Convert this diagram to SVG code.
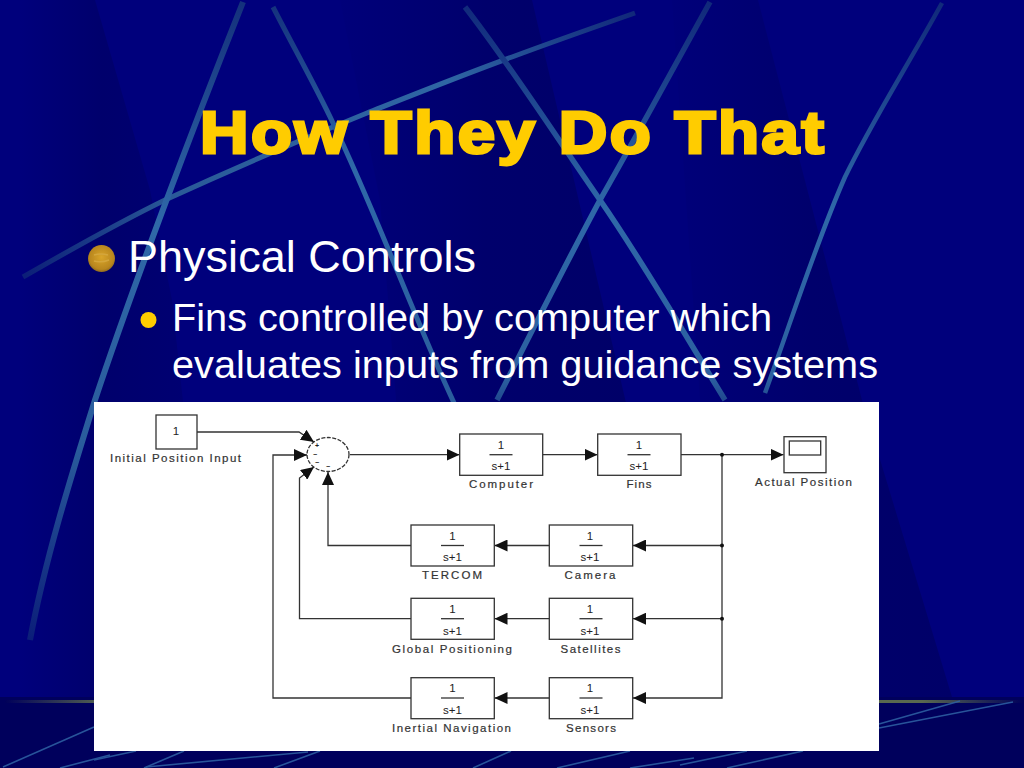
<svg xmlns="http://www.w3.org/2000/svg" width="1024" height="768" viewBox="0 0 1024 768">
<defs>
<style>
.b{fill:#fff;stroke:#333;stroke-width:1.3}
.w{fill:none;stroke:#333;stroke-width:1.3}
.t{font-family:"Liberation Sans",Arial,sans-serif;font-size:11.5px;fill:#333;stroke:#333;stroke-width:.2;text-anchor:middle}
.n{font-family:"Liberation Sans",Arial,sans-serif;font-size:11.5px;fill:#222;text-anchor:middle}
.s{font-family:"Liberation Sans",Arial,sans-serif;font-size:7px;font-weight:700;fill:#222;text-anchor:middle}
.beam{fill:none;stroke-linecap:butt}
.low{fill:none;stroke:#2f63a5;stroke-width:1.6;opacity:.85}
.h{font-family:"Liberation Sans",Arial,sans-serif;fill:#fff}
</style>
<marker id="ah" markerUnits="userSpaceOnUse" markerWidth="14" markerHeight="12" refX="13" refY="6" orient="auto"><path d="M0 0L13 6L0 12Z" fill="#111"/></marker>
<linearGradient id="lb" x1="0" x2="1" y1="0" y2="0"><stop offset="0" stop-color="#00007c"/><stop offset=".5" stop-color="#00006c"/><stop offset="1" stop-color="#000072"/></linearGradient>
<linearGradient id="pm" x1="0" x2="1" y1="0" y2="0"><stop offset="0" stop-color="#00007a"/><stop offset=".5" stop-color="#00006c"/><stop offset="1" stop-color="#000068"/></linearGradient>
<linearGradient id="a" gradientUnits="userSpaceOnUse" x1="25" y1="275" x2="635" y2="15"><stop offset="0" stop-color="#0c1f78"/><stop offset=".25" stop-color="#2a5a98"/><stop offset=".7" stop-color="#2f66a4"/><stop offset="1" stop-color="#11287a"/></linearGradient>
<linearGradient id="v1" gradientUnits="userSpaceOnUse" x1="243" y1="0" x2="30" y2="645"><stop offset="0" stop-color="#14307c"/><stop offset=".35" stop-color="#2f68a8"/><stop offset=".7" stop-color="#2a5c9c"/><stop offset="1" stop-color="#0a1c78"/></linearGradient>
<linearGradient id="v2" gradientUnits="userSpaceOnUse" x1="0" y1="0" x2="0" y2="420"><stop offset="0" stop-color="#14307c"/><stop offset=".4" stop-color="#2f68a8"/><stop offset="1" stop-color="#2a5c9c"/></linearGradient>
<linearGradient id="v3" gradientUnits="userSpaceOnUse" x1="0" y1="0" x2="0" y2="420"><stop offset="0" stop-color="#10287a"/><stop offset=".5" stop-color="#2f68a8"/><stop offset=".9" stop-color="#2c60a0"/><stop offset="1" stop-color="#163480"/></linearGradient>
<linearGradient id="ln" x1="0" x2="1" y1="0" y2="0"><stop offset="0" stop-color="#00005a"/><stop offset=".1" stop-color="#59694f"/><stop offset=".9" stop-color="#59694f"/><stop offset="1" stop-color="#00005a"/></linearGradient>
<radialGradient id="gold" cx=".5" cy=".45" r=".6"><stop offset="0" stop-color="#d9a52a"/><stop offset=".75" stop-color="#b8861e"/><stop offset="1" stop-color="#7a5c20"/></radialGradient>
</defs>

<g id="background">
<rect width="1024" height="768" fill="#00007c"/>
<path d="M20 0H95L150 190L172 300L185 420L185 697H20Z" fill="url(#lb)"/>
<path d="M340 0H532L602 300L630 420V697H420L380 200Z" fill="url(#pm)"/>
<path d="M672 0H758L862 400L952 697H690L700 400Z" fill="url(#pm)"/>
<rect y="697" width="1024" height="71" fill="#00005c"/>
<rect x="5" y="700" width="1019" height="3" fill="url(#ln)"/>
<path class="beam" d="M23 277C70 250 120 222 165 200C235 168 300 140 367 113C415 94 465 74 512 57C555 41 595 27 635 13" stroke="url(#a)" stroke-width="5"/>
<path class="beam" d="M243 2C190 135 130 295 95 400C70 480 45 560 30 640" stroke="url(#v1)" stroke-width="6"/>
<path class="beam" d="M273 7C295 50 315 85 333 123C375 210 415 320 455 405" stroke="url(#v2)" stroke-width="5"/>
<path class="beam" d="M465 7C510 65 555 135 600 200C645 265 685 335 725 400" stroke="url(#v3)" stroke-width="5.500"/>
<path class="beam" d="M710 2C675 65 640 130 600 200C565 265 530 335 497 400" stroke="url(#v3)" stroke-width="5.500"/>
<path class="beam" d="M942 3C905 70 870 125 845 177C815 245 790 325 765 393" stroke="url(#v3)" stroke-width="4.500"/>
<g class="low">
<path d="M3 767L94 727"/><path d="M60 768L110 755"/>
<path d="M94 760L136 751"/><path d="M144 768L184 751"/><path d="M146 767L308 752"/><path d="M274 768L320 751"/>
<path d="M473 768L511 751"/><path d="M557 768L630 751"/><path d="M630 768L694 758"/>
<path d="M680 765L747 751"/><path d="M727 768L803 751"/>
<path d="M879 728L1013 702"/><path d="M879 724L960 701"/>
</g>
</g>

<text id="title" class="h" transform="translate(200 152.500) scale(1.12 1)" font-size="60" font-weight="700" style="fill:#fc0;stroke:#fc0;stroke-width:3" textLength="557">How They Do That</text>
<g id="bullets">
<circle cx="101.500" cy="258.500" r="13.500" fill="url(#gold)"/>
<path d="M94 255q7-2 14 0M94 261q7 2 15-1" fill="none" stroke="#d4a63c" stroke-width="1.500"/>
<circle cx="148.500" cy="320" r="8" fill="#fc0"/>
<text class="h" x="128" y="272" font-size="45" textLength="348">Physical Controls</text>
<text class="h" x="172" y="331" font-size="39.700" textLength="600">Fins controlled by computer which</text>
<text class="h" x="172" y="378" font-size="39.700" textLength="706">evaluates inputs from guidance systems</text>
</g>

<rect id="panel" x="94" y="402" width="785" height="349" fill="#fff"/>

<g id="connectors">
<path class="w" d="M197 432H299L314 442" marker-end="url(#ah)"/>
<path class="w" d="M350 454.700H459.500" marker-end="url(#ah)"/>
<path class="w" d="M542.700 454.700H597.500" marker-end="url(#ah)"/>
<path class="w" d="M681 454.700H783.500" marker-end="url(#ah)"/>
<path class="w" d="M722 454.700V698H633" marker-end="url(#ah)"/>
<path class="w" d="M722 545.500H633" marker-end="url(#ah)"/>
<path class="w" d="M722 618.700H633" marker-end="url(#ah)"/>
<path class="w" d="M549.300 545.500H494.500" marker-end="url(#ah)"/>
<path class="w" d="M549.300 618.700H494.500" marker-end="url(#ah)"/>
<path class="w" d="M549.300 698H494.500" marker-end="url(#ah)"/>
<path class="w" d="M411 545.500H328V472" marker-end="url(#ah)"/>
<path class="w" d="M411 618.700H299.500V478L314 467" marker-end="url(#ah)"/>
<path class="w" d="M411 698H273V455H307" marker-end="url(#ah)"/>
<circle cx="722" cy="454.700" r="2" fill="#111"/>
<circle cx="722" cy="545.500" r="2" fill="#111"/>
<circle cx="722" cy="618.700" r="2" fill="#111"/>
</g>

<g id="input"><rect class="b" x="156" y="415" width="41" height="34"/><text class="n" x="176" y="435">1</text><text class="t" x="175.500" y="462" textLength="131">Initial Position Input</text></g>
<g id="sum"><ellipse cx="328" cy="454.500" rx="21" ry="17" fill="#fff" stroke="#333" stroke-width="1.300" stroke-dasharray="4 1.500"/>
<text class="s" x="317" y="447.500">+</text><text class="s" x="315" y="456.500">−</text><text class="s" x="317" y="465">−</text><text class="s" x="328" y="468.500">−</text></g>
<g id="computer"><rect class="b" x="459.700" y="434" width="83" height="41.300"/><text class="n" x="501" y="449">1</text><path class="w" d="M489.500 454.700h23"/><text class="n" x="501" y="470">s+1</text><text class="t" x="501" y="488" textLength="64">Computer</text></g>
<g id="fins"><rect class="b" x="597.700" y="434" width="83.300" height="41.300"/><text class="n" x="639" y="449">1</text><path class="w" d="M627.500 454.700h23"/><text class="n" x="639" y="470">s+1</text><text class="t" x="639" y="488" textLength="25">Fins</text></g>
<g id="scope"><rect class="b" x="784" y="436.700" width="42" height="36"/><rect class="b" x="789.300" y="441" width="31.400" height="14"/><text class="t" x="803.500" y="486" textLength="97">Actual Position</text></g>
<g id="tercom"><rect class="b" x="411" y="525" width="83.300" height="41"/><text class="n" x="452.500" y="540">1</text><path class="w" d="M441 545.500h23"/><text class="n" x="452.500" y="561">s+1</text><text class="t" x="452" y="579" textLength="60">TERCOM</text></g>
<g id="camera"><rect class="b" x="549.300" y="525" width="83.400" height="41"/><text class="n" x="590" y="540">1</text><path class="w" d="M579.500 545.500h23"/><text class="n" x="590" y="561">s+1</text><text class="t" x="590" y="579" textLength="51">Camera</text></g>
<g id="global"><rect class="b" x="411" y="598.300" width="83.300" height="41"/><text class="n" x="452.500" y="613">1</text><path class="w" d="M441 618.700h23"/><text class="n" x="452.500" y="635">s+1</text><text class="t" x="452" y="652.500" textLength="120">Global Positioning</text></g>
<g id="satellites"><rect class="b" x="549.300" y="598.300" width="83.400" height="41"/><text class="n" x="590" y="613">1</text><path class="w" d="M579.500 618.700h23"/><text class="n" x="590" y="635">s+1</text><text class="t" x="590.500" y="652.500" textLength="60">Satellites</text></g>
<g id="inertial"><rect class="b" x="411" y="677.700" width="83.300" height="41"/><text class="n" x="452.500" y="692">1</text><path class="w" d="M441 698h23"/><text class="n" x="452.500" y="714">s+1</text><text class="t" x="451.500" y="731.500" textLength="119">Inertial Navigation</text></g>
<g id="sensors"><rect class="b" x="549.300" y="677.700" width="83.400" height="41"/><text class="n" x="590" y="692">1</text><path class="w" d="M579.500 698h23"/><text class="n" x="590" y="714">s+1</text><text class="t" x="591" y="731.500" textLength="50">Sensors</text></g>
</svg>
